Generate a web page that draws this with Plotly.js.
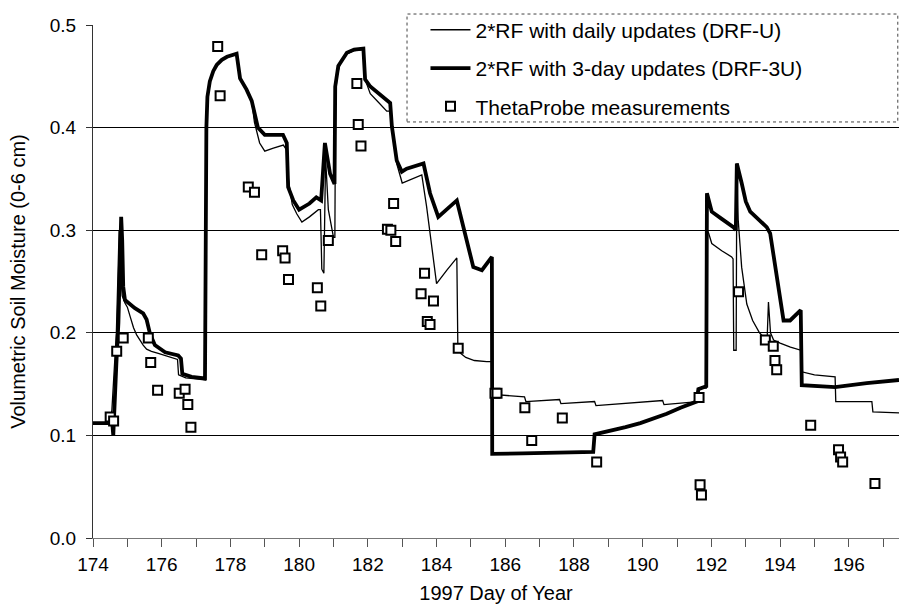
<!DOCTYPE html>
<html>
<head>
<meta charset="utf-8">
<script src="https://cdn.plot.ly/plotly-3.0.1.min.js"></script>
<style>html,body{margin:0;padding:0;background:#fff;}</style>
</head>
<body>
<div id="chart" style="width:899px;height:605px;"></div>
<script>
// DRF-U (daily updates) – thin line
const dailyDays = [174.0,174.5,174.55,174.62,174.68,174.72,174.76,174.8,174.85,174.93,175.0,175.08,175.18,175.27,175.38,175.46,175.56,175.7,175.9,176.1,176.3,176.46,176.49,176.7,177.0,177.27,177.3,177.33,177.4,177.5,177.6,177.75,177.9,178.05,178.18,178.28,178.47,178.62,178.7,178.85,179.0,179.25,179.54,179.64,179.69,179.8,179.93,180.08,180.3,180.56,180.62,180.66,180.72,180.77,180.85,181.0,181.04,181.06,181.1,181.2,181.4,181.6,181.87,181.92,182.07,182.3,182.55,182.65,182.72,182.84,183.0,183.3,183.57,183.71,183.85,184.0,184.3,184.59,184.62,184.7,184.85,185.1,185.46,185.62,185.65,186.0,186.56,186.6,187.0,187.58,187.62,188.0,188.6,188.64,189.5,190.58,190.62,191.0,191.6,191.63,191.85,191.87,191.92,192.01,192.3,192.59,192.63,192.65,192.72,192.74,192.78,192.88,193.03,193.2,193.4,193.62,193.66,193.72,193.81,194.0,194.3,194.6,194.63,195.0,195.6,195.62,196.0,196.67,196.7,197.46];
const dailyTheta = [0.112,0.112,0.125,0.16,0.20,0.25,0.300,0.26,0.236,0.229,0.225,0.216,0.205,0.198,0.192,0.188,0.184,0.182,0.180,0.178,0.176,0.174,0.159,0.156,0.155,0.154,0.40,0.43,0.445,0.455,0.461,0.466,0.469,0.471,0.472,0.448,0.437,0.426,0.405,0.385,0.377,0.380,0.383,0.378,0.349,0.325,0.316,0.308,0.313,0.320,0.320,0.262,0.258,0.370,0.320,0.293,0.293,0.43,0.45,0.463,0.472,0.475,0.476,0.447,0.433,0.425,0.416,0.416,0.395,0.365,0.346,0.350,0.354,0.323,0.285,0.248,0.261,0.273,0.185,0.180,0.176,0.173,0.172,0.172,0.140,0.139,0.1375,0.133,0.134,0.135,0.131,0.132,0.133,0.129,0.131,0.134,0.130,0.131,0.133,0.146,0.146,0.300,0.297,0.287,0.280,0.274,0.272,0.183,0.183,0.365,0.310,0.264,0.228,0.212,0.200,0.192,0.230,0.200,0.193,0.190,0.186,0.183,0.162,0.159,0.157,0.133,0.133,0.133,0.123,0.122];

// DRF-3U (3-day updates) – thick line
const threeDayDays = [174.0,174.56,174.59,174.61,174.68,174.74,174.78,174.82,174.85,174.88,174.93,175.03,175.22,175.46,175.56,175.66,175.8,176.1,176.48,176.56,176.6,176.87,177.26,177.3,177.33,177.4,177.5,177.6,177.75,177.9,178.05,178.18,178.28,178.47,178.62,178.72,178.8,179.0,179.53,179.64,179.68,179.83,180.0,180.3,180.5,180.64,180.75,180.9,181.03,181.05,181.14,181.39,181.6,181.87,181.92,182.07,182.65,182.7,182.84,182.99,183.13,183.62,183.81,184.05,184.59,185.07,185.32,185.61,185.62,186.5,187.5,188.56,188.6,189.15,189.5,189.93,190.3,190.7,191.1,191.57,191.62,191.85,191.87,191.92,192.01,192.3,192.64,192.71,192.74,192.88,193.0,193.13,193.32,193.61,193.71,193.9,194.1,194.29,194.45,194.6,194.63,195.6,196.52,197.46];
const threeDayTheta = [0.112,0.112,0.100,0.12,0.17,0.21,0.28,0.313,0.29,0.245,0.232,0.229,0.224,0.219,0.213,0.199,0.188,0.181,0.178,0.175,0.160,0.157,0.1555,0.40,0.43,0.445,0.455,0.461,0.466,0.469,0.471,0.472,0.448,0.437,0.426,0.41,0.400,0.393,0.393,0.385,0.342,0.329,0.320,0.326,0.332,0.329,0.385,0.355,0.345,0.44,0.46,0.473,0.476,0.477,0.447,0.440,0.424,0.401,0.368,0.357,0.360,0.365,0.336,0.313,0.329,0.264,0.261,0.274,0.082,0.0825,0.083,0.084,0.101,0.105,0.108,0.112,0.116,0.121,0.127,0.133,0.145,0.148,0.336,0.330,0.318,0.311,0.303,0.300,0.365,0.346,0.328,0.318,0.312,0.303,0.297,0.258,0.212,0.212,0.217,0.222,0.149,0.147,0.151,0.154];

// ThetaProbe measurements
const probeDays = [174.5,174.6,174.69,174.88,175.61,175.68,175.88,176.51,176.68,176.76,176.85,177.63,177.7,178.52,178.7,178.91,179.52,179.59,179.69,180.53,180.63,180.85,181.68,181.72,181.8,182.57,182.67,182.75,182.81,183.55,183.65,183.73,183.81,183.91,184.63,185.7,185.76,186.57,186.77,187.66,188.66,191.64,191.67,191.71,192.79,193.57,193.8,193.85,193.9,194.89,195.7,195.76,195.82,196.76];
const probeTheta = [0.118,0.114,0.182,0.195,0.195,0.171,0.144,0.141,0.145,0.130,0.108,0.479,0.431,0.342,0.337,0.276,0.280,0.273,0.252,0.244,0.226,0.290,0.443,0.403,0.382,0.301,0.300,0.326,0.289,0.238,0.258,0.211,0.208,0.231,0.185,0.141,0.141,0.127,0.095,0.117,0.074,0.137,0.052,0.042,0.240,0.193,0.187,0.173,0.164,0.110,0.086,0.079,0.074,0.053];

const seriesNames = ['2*RF with daily updates (DRF-U)','2*RF with 3-day updates (DRF-3U)','ThetaProbe measurements'];

const FONT = 'Liberation Sans, Arial, Helvetica, sans-serif';

const traces = [
  {x: dailyDays, y: dailyTheta, type:'scatter', mode:'lines', name: seriesNames[0], legendgroup:'a',
   line:{color:'#000', width:1.3}},
  {x: threeDayDays, y: threeDayTheta, type:'scatter', mode:'lines', name: seriesNames[1], legendgroup:'b',
   line:{color:'#000', width:3.8}},
  {x: probeDays, y: probeTheta, type:'scatter', mode:'markers', name: seriesNames[2], legendgroup:'c',
   marker:{symbol:'square', size:9, color:'#fff', line:{color:'#000', width:2}}}
];

const layout = {
  width:899, height:605,
  margin:{l:93, r:0, t:25, b:67},
  paper_bgcolor:'#fff', plot_bgcolor:'#fff',
  font:{family:FONT, color:'#000', size:19},
  showlegend:true,
  legend:{x:0.4125, y:1.03, xanchor:'left', yanchor:'top', bgcolor:'rgba(0,0,0,0)', borderwidth:0,
          font:{family:FONT, size:21, color:'#000'}, traceorder:'grouped', tracegroupgap:8, itemwidth:40},
  xaxis:{range:[174,197.46], tick0:174, dtick:2, ticks:'outside', ticklen:8, tickcolor:'#555', tickwidth:1,
         showgrid:false, zeroline:false, showline:true, linecolor:'#777', linewidth:1,
         tickfont:{family:FONT, size:19}, ticklabelstandoff:1,
         minor:{dtick:1, ticks:'outside', ticklen:8, tickcolor:'#555', showgrid:false},
         title:{text:'1997 Day of Year', font:{family:FONT, size:20}, standoff:12}},
  yaxis:{range:[0,0.5], dtick:0.1, tickformat:'.1f', ticks:'outside', ticklen:6, tickcolor:'#333',
         showgrid:true, gridcolor:'#000', gridwidth:1, zeroline:false, showline:true, linecolor:'#333', linewidth:1,
         tickfont:{family:FONT, size:19}, ticklabelstandoff:6,
         title:{text:'Volumetric Soil Moisture (0-6 cm)', font:{family:FONT, size:20}, standoff:18}},
  shapes:[
    {type:'rect', xref:'paper', yref:'paper', x0:0.3896, x1:0.9985, y0:0.811, y1:1.0214,
     fillcolor:'#fff', line:{color:'#444', width:1, dash:'dot'}, layer:'above'}
  ]
};

Plotly.newPlot('chart', traces, layout, {displayModeBar:false, staticPlot:true});
</script>
</body>
</html>
